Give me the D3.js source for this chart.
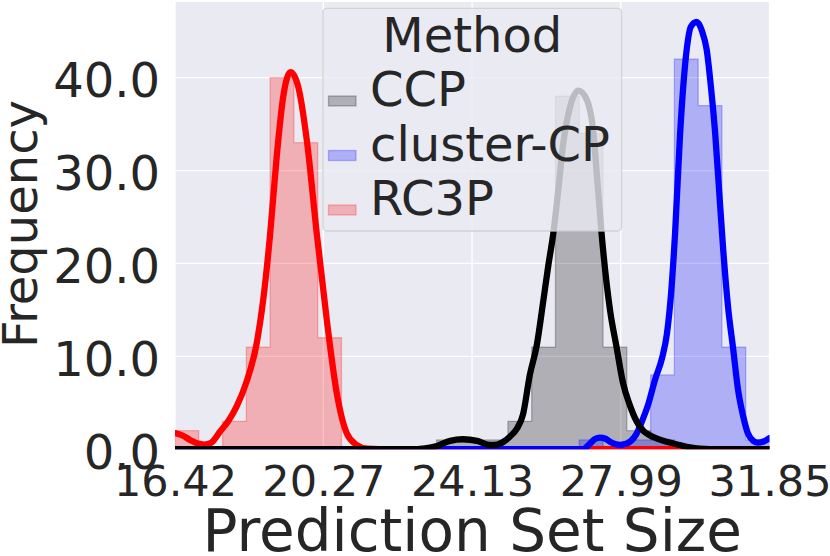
<!DOCTYPE html>
<html>
<head>
<meta charset="utf-8">
<script src="https://cdn.jsdelivr.net/npm/d3@7"></script>
<style>
  html, body { margin: 0; padding: 0; background: #ffffff; }
  svg { display: block; font-family: "DejaVu Sans", sans-serif; }
</style>
</head>
<body>
<svg id="chart" width="830" height="556"></svg>
<script>
// ---------------- data ----------------
const methods = ["CCP", "cluster-CP", "RC3P"];
const methodColors = ["#000000", "#0000ff", "#ff0000"];
const xTicks = [16.42, 20.27, 24.13, 27.99, 31.85];
const yTicks = [0, 10, 20, 30, 40];
const binStart = 16.42, binEnd = 31.85, binCount = 25;

// histogram counts per bin (25 bins between 16.42 and 31.85)
const countsCCP      = [0,0,0,0,0,0,0,0,0,0,0,1,1,1,3,11,38,34,11,2,1,0,0,0,0];
const countsCluster  = [0,0,0,0,0,0,0,0,0,0,0,0,0,0,0,0,0,1,0,1,8,42,37,11,1];
const countsRC3P     = [2,0,3,11,40,33,12,0,0,0,0,0,0,0,0,0,0,0,0,0,0,0,0,0,0];

// KDE curves: [size, frequency]
const kdeCCP = [[16.42,0],[22.52,0],[22.91,0.1],[23.22,0.35],[23.56,0.9],[23.89,1.07],[24.26,0.9],
  [24.60,0.45],[24.78,0.5],[24.98,0.9],[25.11,1.35],[25.30,2.25],[25.45,3.7],[25.63,8.0],[25.81,11.2],
  [25.98,16.0],[26.11,19.8],[26.24,23.3],[26.37,28],[26.50,33],[26.67,36.8],[26.89,38.6],[27.11,37.6],
  [27.28,34],[27.37,29.5],[27.49,23.3],[27.71,15],[27.88,11],[28.05,7.1],[28.22,4.8],[28.40,3.0],
  [28.57,2.0],[28.74,1.5],[28.90,1.2],[29.18,0.8],[29.52,0.45],[29.78,0.2],[30.04,0.05],[30.3,0],[31.85,0]];
const kdeCluster = [[16.42,0],[27.01,0],[27.19,0.6],[27.32,1.1],[27.45,1.25],[27.58,1.15],[27.71,0.8],
  [27.84,0.55],[27.97,0.45],[28.10,0.55],[28.23,0.8],[28.39,1.6],[28.54,3.0],[28.70,4.8],[28.88,7.5],
  [29.06,9.8],[29.19,12.5],[29.30,17],[29.40,23.3],[29.53,34],[29.70,43],[29.81,45.5],[29.96,46],
  [30.10,45],[30.22,43],[30.33,39],[30.44,34],[30.54,28],[30.65,21.4],[30.77,15.5],[30.91,10.7],
  [31.03,6.5],[31.17,3.5],[31.29,1.7],[31.43,0.9],[31.55,0.7],[31.68,0.8],[31.85,1.2]];
const kdeRC3P = [[16.42,1.75],[16.63,1.45],[16.81,1.0],[17.02,0.6],[17.18,0.5],[17.36,0.7],[17.59,1.9],
  [17.80,3.0],[18.02,4.6],[18.28,7.3],[18.54,11.4],[18.71,16.1],[18.89,23.2],[19.06,31.5],[19.23,38],
  [19.42,40.6],[19.62,39],[19.84,33.3],[20.10,23.2],[20.36,13.9],[20.62,6.0],[20.88,1.7],[21.14,0.45],
  [21.40,0.05],[21.74,0],[31.85,0]];

// ---------------- layout ----------------
const svg = d3.select("#chart");
const plot = { left: 175, right: 769.5, top: 2, bottom: 449.2 };
const x = d3.scaleLinear().domain([binStart, binEnd]).range([plot.left, plot.right]);
const y = d3.scaleLinear().domain([0, 48.15]).range([plot.bottom, plot.top]);
const textColor = "#262626";

svg.append("defs").append("clipPath").attr("id", "plotClip")
  .append("rect").attr("x", plot.left).attr("y", plot.top)
  .attr("width", plot.right - plot.left).attr("height", plot.bottom - plot.top);

// background
svg.append("rect").attr("x", plot.left).attr("y", plot.top)
  .attr("width", plot.right - plot.left).attr("height", plot.bottom - plot.top)
  .attr("fill", "#eaeaf2");

// grid
const grid = svg.append("g");
grid.selectAll("line.v").data(xTicks).enter().append("line")
  .attr("x1", d => x(d)).attr("x2", d => x(d)).attr("y1", plot.top).attr("y2", plot.bottom)
  .attr("stroke", "#ffffff").attr("stroke-width", 1.3);
grid.selectAll("line.h").data(yTicks).enter().append("line")
  .attr("x1", plot.left).attr("x2", plot.right).attr("y1", d => y(d)).attr("y2", d => y(d))
  .attr("stroke", "#ffffff").attr("stroke-width", 1.3);

// histograms (step)
const binW = (binEnd - binStart) / binCount;
function stepPoints(counts) {
  const pts = counts.map((c, i) => [binStart + i * binW, c]);
  pts.push([binEnd, counts[counts.length - 1]]);
  return pts;
}
const area = d3.area().x(d => x(d[0])).y0(y(0)).y1(d => y(d[1])).curve(d3.curveStepAfter);
const hists = [countsCCP, countsCluster, countsRC3P];
const gh = svg.append("g").attr("clip-path", "url(#plotClip)");
hists.forEach((counts, i) => {
  gh.append("path").datum(stepPoints(counts)).attr("d", area)
    .attr("fill", methodColors[i]).attr("fill-opacity", 0.25)
    .attr("stroke", methodColors[i]).attr("stroke-opacity", 0.25).attr("stroke-width", 1.3);
});

// KDE lines (drawn red, blue, black so black is on top)
const line = d3.line().x(d => x(d[0])).y(d => y(d[1])).curve(d3.curveMonotoneX);
const gk = svg.append("g").attr("clip-path", "url(#plotClip)");
[[kdeRC3P, 2], [kdeCluster, 1], [kdeCCP, 0]].forEach(([pts, i]) => {
  gk.append("path").datum(pts).attr("d", line)
    .attr("fill", "none").attr("stroke", methodColors[i]).attr("stroke-width", 6.3)
    .attr("stroke-linejoin", "round").attr("stroke-linecap", "round");
});

// axes tick labels
const xAxis = d3.axisBottom(x).tickValues(xTicks).tickSize(0).tickPadding(0)
  .tickFormat(d3.format(".2f"));
const gx = svg.append("g").attr("transform", `translate(0,${plot.bottom})`).call(xAxis);
gx.select(".domain").remove();
gx.selectAll("text").attr("font-size", 43).attr("fill", textColor)
  .attr("font-family", "DejaVu Sans").attr("dy", null).attr("y", 47);

const yAxis = d3.axisLeft(y).tickValues(yTicks).tickSize(0).tickPadding(15)
  .tickFormat(d3.format(".1f"));
const gy = svg.append("g").attr("transform", `translate(${plot.left},0)`).call(yAxis);
gy.select(".domain").remove();
gy.selectAll("text").attr("font-size", 48).attr("fill", textColor)
  .attr("font-family", "DejaVu Sans").attr("dy", null).attr("y", 19);

// axis labels
svg.append("text").attr("x", (plot.left + plot.right) / 2).attr("y", 551)
  .attr("text-anchor", "middle").attr("font-size", 58).attr("fill", textColor)
  .text("Prediction Set Size");
svg.append("text").attr("transform", "translate(37,224) rotate(-90)")
  .attr("text-anchor", "middle").attr("font-size", 48).attr("fill", textColor)
  .text("Frequency");

// legend
const lg = svg.append("g");
lg.append("rect").attr("x", 323).attr("y", 8.3).attr("width", 298.5).attr("height", 222.7)
  .attr("rx", 4).attr("fill", "#eaeaf2").attr("fill-opacity", 0.8)
  .attr("stroke", "#cccccc").attr("stroke-opacity", 0.8).attr("stroke-width", 1.3);
lg.append("text").attr("x", 472.3).attr("y", 51.7).attr("text-anchor", "middle")
  .attr("font-size", 48).attr("fill", textColor).text("Method");
const rowY = [106, 160.5, 215];
methods.forEach((m, i) => {
  lg.append("rect").attr("x", 328.5).attr("y", rowY[i] - 10).attr("width", 27.5).attr("height", 10)
    .attr("fill", methodColors[i]).attr("fill-opacity", 0.25)
    .attr("stroke", methodColors[i]).attr("stroke-opacity", 0.25).attr("stroke-width", 1.3);
  lg.append("text").attr("x", 370).attr("y", rowY[i]).attr("font-size", 48)
    .attr("fill", textColor).text(m);
});
</script>
</body>
</html>
